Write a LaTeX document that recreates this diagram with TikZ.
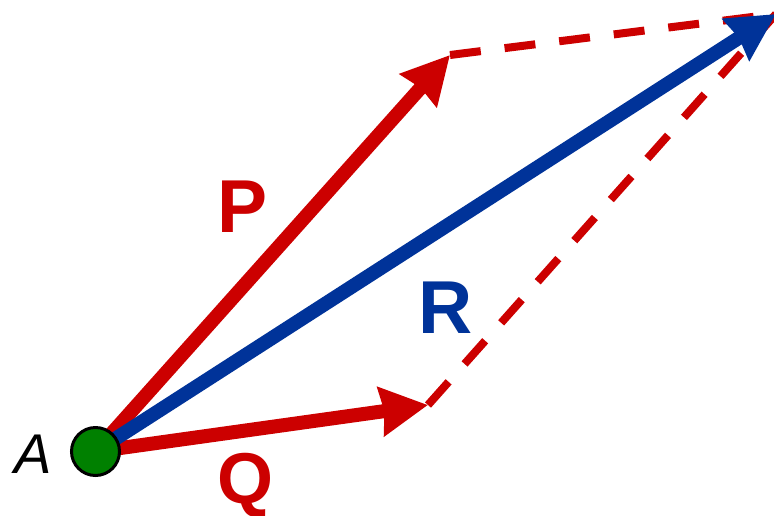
\documentclass[tikz,border=0pt]{standalone}
\usepackage{fontspec}
\setmainfont{Liberation Sans}
\usetikzlibrary{arrows.meta}
\definecolor{vred}{RGB}{204,0,0}
\definecolor{vblue}{RGB}{0,51,153}
\definecolor{vgreen}{RGB}{0,128,0}
\begin{document}
\begin{tikzpicture}[x=1pt,y=-1pt,
  vec/.style={line width=14pt,-{Stealth[length=47pt,width=48pt,inset=3pt]}},
  dashline/.style={draw=vred,line width=8pt,dash pattern=on 31pt off 24pt},
  biglab/.style={font=\fontsize{75}{80}\selectfont\bfseries,anchor=base,inner sep=0pt}]
\useasboundingbox (0,0) rectangle (774,515);
\coordinate (A) at (95.5,451.5);
\coordinate (Ptip) at (450,55);
\coordinate (Qtip) at (428,405);
\coordinate (Rtip) at (776,14);
\draw[dashline] (Ptip) -- (Rtip);
\draw[dashline] (Qtip) -- (Rtip);
\draw[vec,vred] (A) -- (Ptip);
\draw[vec,vred] (A) -- (Qtip);
\draw[vec,vblue] (A) -- (Rtip);
\node[circle,fill=vgreen,draw=black,line width=3pt,minimum size=48pt,inner sep=0pt] (An) at (A) {};
\node[font=\fontsize{56}{60}\selectfont\itshape,anchor=base,inner sep=0pt] (Alab) at (33,473) {A};
\node[biglab,text=vred] (Plab) at (243,232) {P};
\node[biglab,text=vblue] (Rlab) at (446,333) {R};
\node[biglab,text=vred,font=\fontsize{72}{78}\selectfont\bfseries] (Qlab) at (246,503) {Q};
\end{tikzpicture}
\end{document}
